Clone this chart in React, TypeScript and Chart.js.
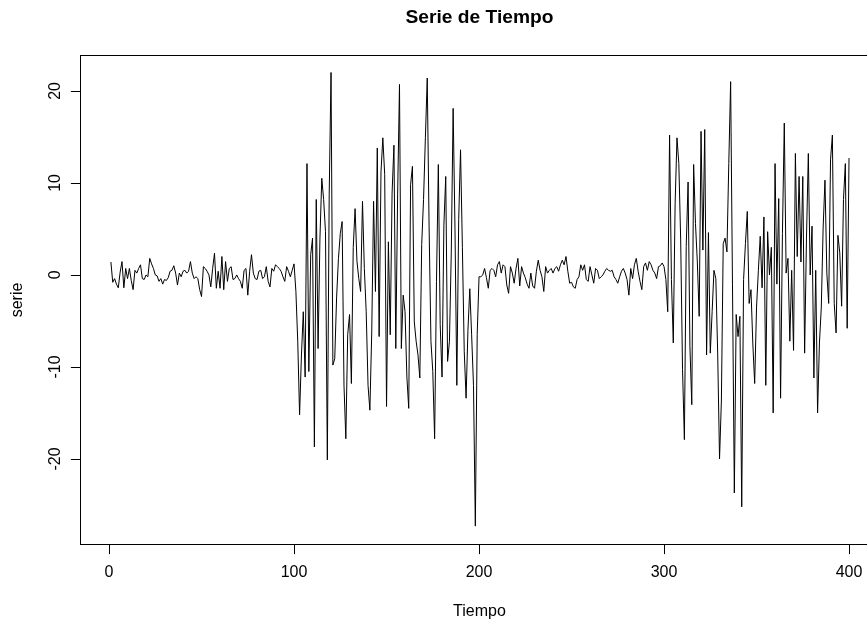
import React, { useEffect, useRef } from "react";
import { Chart, registerables } from "chart.js";

Chart.register(...registerables);

// Series values, t = 1..400
const serie001to050 = [
  1.4, -0.8, -0.4, -1.0, -1.4, 0.3, 1.45, -1.4, 0.7, -0.4,
  0.7, -0.6, -1.6, 0.5, 0.2, 0.7, 1.1, -0.4, -0.5, 0.0,
  -0.2, 1.8, 1.2, 0.7, 0.0, -0.1, -0.7, -0.4, -1.0, -0.5,
  -0.6, -0.3, 0.4, 0.5, 1.0, 0.2, -1.1, 0.2, -0.2, 0.4,
  0.5, 0.2, 0.4, 1.45, 0.2, -0.4, -0.2, -0.4, -1.6, -2.35,
];
const serie051to100 = [
  0.9, 0.7, 0.4, 0.0, -1.3, 0.7, 2.35, -1.45, 0.4, -1.45,
  2.0, -1.6, 1.45, -0.7, 0.7, 0.9, -0.5, -0.4, 0.0, -0.4,
  -0.7, -1.45, 0.5, 0.7, -2.2, 0.4, 2.2, 0.2, -0.4, -0.5,
  0.4, 0.5, -0.4, -0.2, 0.9, -0.7, -1.3, 0.7, 0.4, 1.1,
  0.9, 0.7, 0.4, -0.2, -0.7, 0.9, 0.4, -0.2, 0.5, 1.2,
];
const serie101to150 = [
  -1.8, -7.2, -15.2, -8.7, -4.0, -11.1, 12.1, -10.5, 2.2, 4.0,
  -18.7, 8.2, -8.0, 4.0, 10.5, 8.2, 4.7, -20.1, 8.7, 22.0,
  -9.8, -9.1, -2.5, 1.8, 4.5, 5.8, -12.0, -17.8, -6.5, -4.3,
  -11.8, 3.0, 7.2, 1.5, -0.4, -1.8, 8.0, 0.7, -4.0, -12.0,
  -14.7, -6.2, 8.0, -1.8, 13.8, -6.7, 11.2, 14.9, 10.9, -14.3,
];
const serie151to200 = [
  3.6, -6.5, 8.9, 14.1, -8.0, 8.7, 20.7, -8.0, -2.2, -4.0,
  -11.1, -14.5, 9.8, 11.8, -5.1, -7.2, -8.7, -11.2, 3.3, 8.2,
  14.9, 21.4, 5.3, -7.2, -10.5, -17.8, -0.7, 12.0, -5.4, -11.1,
  5.4, 10.7, -9.4, -7.2, 2.5, 18.1, 5.0, -12.0, 6.0, 13.6,
  3.0, -8.3, -13.4, -6.0, -1.5, -6.5, -12.0, -27.3, -6.5, -0.2,
];
const serie201to250 = [
  -0.2, 0.0, 0.7, -0.3, -1.45, 0.5, 0.7, 0.5, -0.2, 1.1,
  1.45, 0.2, 1.1, 0.9, -1.1, -2.0, 0.9, 0.2, -0.9, 0.7,
  1.8, -1.2, 0.9, 0.2, -0.3, -1.0, -1.45, 0.2, -1.2, -1.45,
  0.4, 1.6, 0.5, -0.2, -1.8, 0.9, 0.2, 0.5, 0.7, 0.2,
  0.7, 0.9, 0.4, 1.1, 1.6, 1.1, 2.0, 0.4, -0.9, -0.8,
];
const serie251to300 = [
  -1.3, -1.45, -0.5, -0.2, 1.1, 0.5, 1.1, -0.5, -0.7, 0.9,
  0.0, -0.9, 0.7, 0.5, -0.4, -0.2, 0.0, 0.4, 0.7, 0.5,
  0.4, 0.5, -0.2, -0.5, -0.9, -0.2, 0.4, 0.7, 0.2, -0.5,
  -2.2, 0.7, -0.4, 1.1, 1.8, 0.4, -0.7, -1.6, 0.9, 1.3,
  0.5, 1.45, 1.1, 0.5, 0.2, -0.4, 0.9, 1.0, 1.3, 0.9,
];
const serie301to350 = [
  -0.5, -4.0, 15.2, -0.5, -7.4, 7.8, 14.9, 12.1, 3.8, -10.3,
  -17.9, 3.1, 10.1, -7.8, -14.1, 12.0, 5.6, 1.4, -4.5, 15.6,
  2.7, 15.8, -8.7, 4.6, -8.5, -4.0, 0.5, -0.4, -8.5, -20.0,
  -13.7, 3.4, 4.0, 2.5, 12.1, 21.0, -1.0, -23.7, -4.3, -6.7,
  -4.5, -25.2, -0.5, 3.4, 6.9, -3.1, -1.6, -7.5, -11.8, -3.5,
];
const serie351to400 = [
  0.5, 4.2, -1.4, 6.3, -12.0, 4.7, 0.0, 3.0, -15.0, 12.1,
  -1.0, 8.3, -13.4, 4.5, 16.5, 0.2, 1.8, -7.2, 0.5, -8.2,
  13.2, 2.0, 10.7, 1.4, 10.7, -8.5, 4.0, 13.2, 0.0, 5.3,
  -11.2, 0.5, -15.0, -7.4, -3.6, 5.1, 10.3, 0.2, -3.1, 12.5,
  15.2, -3.1, -6.3, 4.3, 2.4, -3.4, 8.2, 12.1, -5.8, 12.7,
];

const serie = [
  ...serie001to050, ...serie051to100, ...serie101to150, ...serie151to200,
  ...serie201to250, ...serie251to300, ...serie301to350, ...serie351to400,
];

const xTicks = [0, 100, 200, 300, 400];
const yTicks = [-20, -10, 0, 10, 20];
const titleText = "Serie de Tiempo";
const xLabel = "Tiempo";
const yLabel = "serie";

const FONT = '"Liberation Sans", Arial, Helvetica, sans-serif';

export default function App() {
  const ref = useRef<HTMLCanvasElement>(null);

  useEffect(() => {
    const canvas = ref.current;
    if (!canvas) return;

    const rbase = {
      id: "rbase",
      afterDraw(chart: any) {
        const ctx = chart.ctx as CanvasRenderingContext2D;
        const { left, right, top, bottom } = chart.chartArea;
        const xs = chart.scales.x;
        const ys = chart.scales.y;
        const tick = 9.6;
        ctx.save();
        ctx.strokeStyle = "#000";
        ctx.lineWidth = 1;
        // box
        const L = Math.round(left) + 0.5;
        const T = Math.round(top) + 0.5;
        const B = Math.round(bottom) - 0.5;
        const R = Math.round(right) - 0.5;
        ctx.strokeRect(L, T, R - L, B - T);

        // x axis
        ctx.beginPath();
        const xa = Math.round(xs.getPixelForValue(xTicks[0])) + 0.5;
        const xb = Math.round(xs.getPixelForValue(xTicks[xTicks.length - 1])) + 0.5;
        ctx.moveTo(xa, B);
        ctx.lineTo(xb, B);
        xTicks.forEach((t) => {
          const px = Math.round(xs.getPixelForValue(t)) + 0.5;
          ctx.moveTo(px, B);
          ctx.lineTo(px, B + tick);
        });
        // y axis
        const ya = Math.round(ys.getPixelForValue(yTicks[0])) + 0.5;
        const yb = Math.round(ys.getPixelForValue(yTicks[yTicks.length - 1])) + 0.5;
        ctx.moveTo(L, ya);
        ctx.lineTo(L, yb);
        yTicks.forEach((t) => {
          const py = Math.round(ys.getPixelForValue(t)) + 0.5;
          ctx.moveTo(L, py);
          ctx.lineTo(L - tick, py);
        });
        ctx.stroke();

        ctx.fillStyle = "#000";
        ctx.font = `16px ${FONT}`;
        ctx.textAlign = "center";
        ctx.textBaseline = "middle";
        xTicks.forEach((t) => {
          ctx.fillText(String(t), xs.getPixelForValue(t), 573);
        });
        yTicks.forEach((t) => {
          ctx.save();
          ctx.translate(56, ys.getPixelForValue(t));
          ctx.rotate(-Math.PI / 2);
          ctx.fillText(String(t), 0, 0);
          ctx.restore();
        });

        const cx = (left + right) / 2;
        const cy = (top + bottom) / 2;
        ctx.fillText(xLabel, cx, 612);
        ctx.save();
        ctx.translate(18, cy);
        ctx.rotate(-Math.PI / 2);
        ctx.fillText(yLabel, 0, 0);
        ctx.restore();

        ctx.font = `bold 19.2px ${FONT}`;
        ctx.fillText(titleText, cx, 18);
        ctx.restore();
      },
    };

    const chart = new Chart(canvas, {
      type: "line",
      data: {
        datasets: [
          {
            data: serie.map((v, i) => ({ x: i + 1, y: v })),
            borderColor: "#000",
            borderWidth: 1,
            pointRadius: 0,
            tension: 0,
            fill: false,
          },
        ],
      },
      options: {
        animation: false,
        responsive: false,
        devicePixelRatio: 1,
        layout: { padding: { left: 80, top: 55, right: 1, bottom: 76 } },
        plugins: {
          legend: { display: false },
          tooltip: { enabled: false },
          title: { display: false },
        },
        scales: {
          x: { type: "linear", min: -15.7, max: 416.2, display: false },
          y: { type: "linear", min: -29.35, max: 23.9, display: false },
        },
      },
      plugins: [rbase],
    });

    return () => chart.destroy();
  }, []);

  return (
    <div
      style={{
        position: "fixed",
        left: 0,
        top: 0,
        width: 867,
        height: 621,
        overflow: "hidden",
        background: "#fff",
      }}
    >
      <canvas ref={ref} width={880} height={621} style={{ display: "block" }} />
    </div>
  );
}
